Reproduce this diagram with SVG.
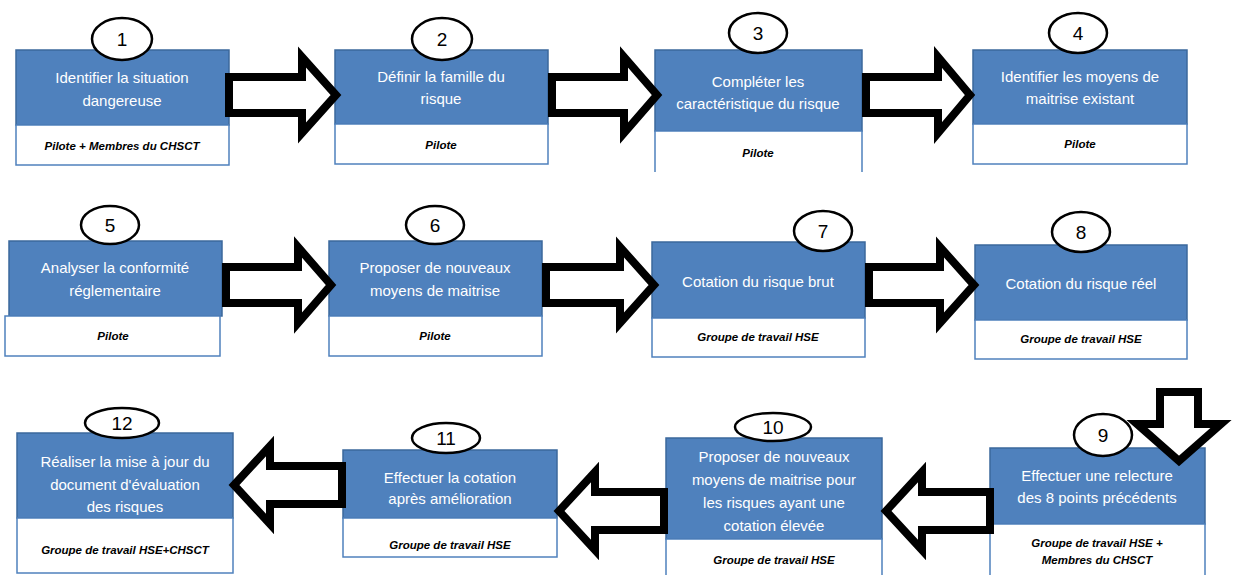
<svg xmlns="http://www.w3.org/2000/svg" width="1234" height="575" viewBox="0 0 1234 575">
<style>
.bx{fill:#4F81BD;stroke:#3B689C;stroke-width:1.5}
.wb{fill:#FFFFFF;stroke:#4F81BD;stroke-width:1.5}
.num{fill:#FFFFFF;stroke:#000;stroke-width:2.5}
.t{font-family:"Liberation Sans",Arial,sans-serif;font-size:15px;fill:#FFFFFF;text-anchor:middle}
.l{font-family:"Liberation Sans",Arial,sans-serif;font-size:11.5px;font-weight:bold;font-style:italic;fill:#000;text-anchor:middle}
.n{font-family:"Liberation Sans",Arial,sans-serif;font-size:19px;fill:#000;text-anchor:middle}
.ar{fill:#FFFFFF;stroke:#000;stroke-width:8;stroke-linejoin:miter;stroke-miterlimit:10}
</style>
<rect width="1234" height="575" fill="#FFFFFF"/>
<g id="n1">
<rect class="bx" x="16" y="50" width="213" height="75"/>
<rect class="wb" x="16" y="125" width="213" height="40"/>
<text class="t" x="122" y="83">Identifier la situation</text>
<text class="t" x="122" y="106">dangereuse</text>
<text class="l" x="122" y="150">Pilote + Membres du CHSCT</text>
<ellipse class="num" cx="122" cy="39" rx="30" ry="21"/>
<text class="n" x="122" y="46">1</text>
</g>
<g id="n2">
<rect class="bx" x="335" y="50" width="213" height="74"/>
<rect class="wb" x="335" y="124" width="213" height="40"/>
<text class="t" x="441" y="82">Définir la famille du</text>
<text class="t" x="441" y="104">risque</text>
<text class="l" x="441" y="149">Pilote</text>
<ellipse class="num" cx="442" cy="39" rx="30" ry="21"/>
<text class="n" x="442" y="46">2</text>
</g>
<g id="n3">
<rect class="bx" x="655" y="50" width="207" height="81"/>
<path class="wb" d="M655,172 V131 H862 V172"/>
<text class="t" x="758" y="87">Compléter les</text>
<text class="t" x="758" y="109">caractéristique du risque</text>
<text class="l" x="758" y="157">Pilote</text>
<ellipse class="num" cx="758" cy="33" rx="29" ry="20"/>
<text class="n" x="758" y="40">3</text>
</g>
<g id="n4">
<rect class="bx" x="973" y="50" width="214" height="74"/>
<rect class="wb" x="973" y="124" width="214" height="40"/>
<text class="t" x="1080" y="82">Identifier les moyens de</text>
<text class="t" x="1080" y="104">maitrise existant</text>
<text class="l" x="1080" y="148">Pilote</text>
<ellipse class="num" cx="1078" cy="33" rx="29" ry="20"/>
<text class="n" x="1078" y="40">4</text>
</g>
<g id="n5">
<rect class="bx" x="9" y="241" width="213" height="75"/>
<rect class="wb" x="5" y="316" width="215" height="40"/>
<text class="t" x="115" y="273">Analyser la conformité</text>
<text class="t" x="115" y="296">réglementaire</text>
<text class="l" x="113" y="340">Pilote</text>
<ellipse class="num" cx="110" cy="225" rx="29" ry="19"/>
<text class="n" x="110" y="232">5</text>
</g>
<g id="n6">
<rect class="bx" x="329" y="241" width="213" height="75"/>
<rect class="wb" x="329" y="316" width="213" height="40"/>
<text class="t" x="435" y="273">Proposer de nouveaux</text>
<text class="t" x="435" y="296">moyens de maitrise</text>
<text class="l" x="435" y="340">Pilote</text>
<ellipse class="num" cx="435" cy="225" rx="29" ry="19"/>
<text class="n" x="435" y="232">6</text>
</g>
<g id="n7">
<rect class="bx" x="652" y="242" width="213" height="76"/>
<rect class="wb" x="652" y="318" width="213" height="39"/>
<text class="t" x="758" y="287">Cotation du risque brut</text>
<text class="l" x="758" y="341">Groupe de travail HSE</text>
<ellipse class="num" cx="823" cy="231" rx="29" ry="20"/>
<text class="n" x="823" y="238">7</text>
</g>
<g id="n8">
<rect class="bx" x="975" y="245" width="212" height="75"/>
<rect class="wb" x="975" y="320" width="212" height="39"/>
<text class="t" x="1081" y="289">Cotation du risque réel</text>
<text class="l" x="1081" y="343">Groupe de travail HSE</text>
<ellipse class="num" cx="1081" cy="232" rx="29" ry="20"/>
<text class="n" x="1081" y="239">8</text>
</g>
<g id="n9">
<rect class="bx" x="990" y="448" width="215" height="76"/>
<path class="wb" d="M990,576 V524 H1205 V576"/>
<text class="t" x="1097" y="481">Effectuer une relecture</text>
<text class="t" x="1097" y="503">des 8 points précédents</text>
<text class="l" x="1097" y="547">Groupe de travail HSE +</text>
<text class="l" x="1097" y="564">Membres du CHSCT</text>
<ellipse class="num" cx="1103" cy="435" rx="29" ry="21"/>
<text class="n" x="1103" y="442">9</text>
</g>
<g id="n10">
<rect class="bx" x="666" y="438" width="216" height="101"/>
<path class="wb" d="M666,576 V539 H882 V576"/>
<text class="t" x="774" y="462">Proposer de nouveaux</text>
<text class="t" x="774" y="485">moyens de maitrise pour</text>
<text class="t" x="774" y="508">les risques ayant une</text>
<text class="t" x="774" y="531">cotation élevée</text>
<text class="l" x="774" y="564">Groupe de travail HSE</text>
<ellipse class="num" cx="773" cy="427" rx="38" ry="14"/>
<text class="n" x="773" y="434">10</text>
</g>
<g id="n11">
<rect class="bx" x="343" y="450" width="214" height="68"/>
<rect class="wb" x="343" y="518" width="214" height="39"/>
<text class="t" x="450" y="483">Effectuer la cotation</text>
<text class="t" x="450" y="504">après amélioration</text>
<text class="l" x="450" y="549">Groupe de travail HSE</text>
<ellipse class="num" cx="446" cy="438" rx="34" ry="15"/>
<text class="n" x="446" y="445">11</text>
</g>
<g id="n12">
<rect class="bx" x="17" y="433" width="216" height="85"/>
<rect class="wb" x="17" y="518" width="216" height="55"/>
<text class="t" x="125" y="467">Réaliser la mise à jour du</text>
<text class="t" x="125" y="490">document d'évaluation</text>
<text class="t" x="125" y="512">des risques</text>
<text class="l" x="125" y="554">Groupe de travail HSE+CHSCT</text>
<ellipse class="num" cx="122" cy="423" rx="37" ry="15"/>
<text class="n" x="122" y="430">12</text>
</g>
<g id="connectors">
<polygon class="ar" points="229,77 302,77 302,57 336,95 302,133 302,113 229,113"/>
<polygon class="ar" points="552,77 624,77 624,57 657,95 624,133 624,113 552,113"/>
<polygon class="ar" points="866,77 938,77 938,57 970,95 938,133 938,113 866,113"/>
<polygon class="ar" points="226,267 298,267 298,247 331,285 298,323 298,303 226,303"/>
<polygon class="ar" points="546,267 620,267 620,247 654,285 620,323 620,303 546,303"/>
<polygon class="ar" points="869,267 940,267 940,247 974,285 940,323 940,303 869,303"/>
<polygon class="ar" points="1160,392 1198,392 1198,424 1221,424 1179,461 1137,424 1160,424"/>
<polygon class="ar" points="990,492 922,492 922,472 886,511 922,550 922,530 990,530"/>
<polygon class="ar" points="664,492 595,492 595,472 559,511 595,550 595,530 664,530"/>
<polygon class="ar" points="342,466 270,466 270,446 234,485 270,524 270,504 342,504"/>
</g>
</svg>
